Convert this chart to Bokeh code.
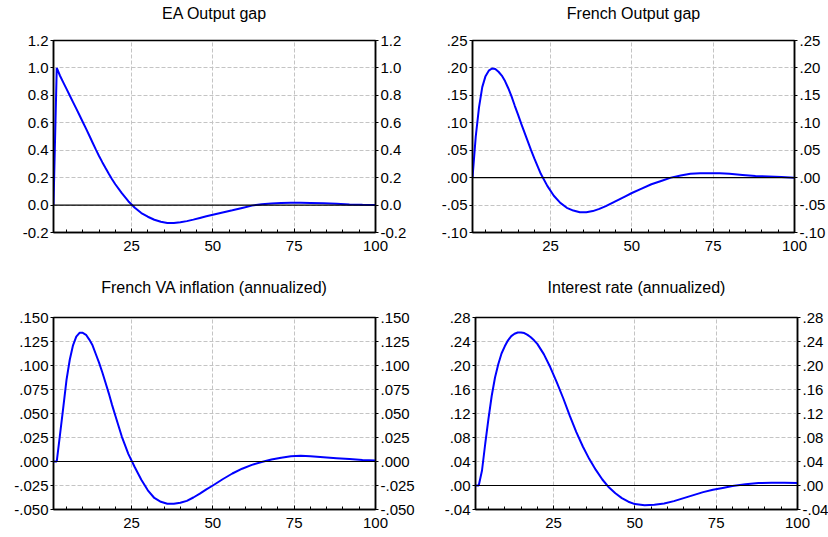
from bokeh.plotting import figure
from bokeh.layouts import column, row
from bokeh.models import LinearAxis, FixedTicker, Span, Range1d
from bokeh.embed import file_html
from bokeh.resources import INLINE

# ---------------- data ----------------
periods = [1, 2, 3, 4, 5, 6, 7, 8, 9, 10, 11, 12, 13, 14, 15, 16, 17, 18, 19, 20,
           22, 24, 26, 28, 30, 32, 34, 36, 38, 40, 42, 44, 46, 48, 50,
           53, 56, 59, 62, 65, 68, 71, 74, 77, 80, 84, 88, 92, 96, 100]

ea_output_gap = [0.0, 1.0, 0.943, 0.895, 0.847, 0.799, 0.751, 0.703, 0.655, 0.606,
                 0.557, 0.507, 0.456, 0.406, 0.358, 0.313, 0.27, 0.228, 0.188, 0.152,
                 0.087, 0.028, -0.02, -0.058, -0.085, -0.107, -0.122, -0.13, -0.13, -0.125,
                 -0.117, -0.106, -0.094, -0.082, -0.071,
                 -0.054, -0.038, -0.021, -0.004, 0.006, 0.012, 0.016, 0.017, 0.017, 0.016,
                 0.013, 0.009, 0.005, 0.002, 0.0]

fr_output_gap = [0.0, 0.075, 0.128, 0.165, 0.185, 0.195, 0.199, 0.198, 0.193, 0.186,
                 0.176, 0.163, 0.148, 0.131, 0.115, 0.098, 0.082, 0.066, 0.05, 0.035,
                 0.007, -0.015, -0.033, -0.046, -0.055, -0.06, -0.063, -0.063, -0.061, -0.057,
                 -0.052, -0.046, -0.04, -0.034, -0.028,
                 -0.02, -0.012, -0.006, 0.0, 0.004, 0.007, 0.008, 0.008, 0.008, 0.007,
                 0.005, 0.003, 0.002, 0.001, 0.0]

fr_va_inflation = [0.0, 0.0, 0.028, 0.056, 0.085, 0.106, 0.121, 0.13, 0.134, 0.134,
                   0.132, 0.127, 0.121, 0.112, 0.103, 0.093, 0.082, 0.071, 0.059, 0.048,
                   0.026, 0.008, -0.006, -0.019, -0.03, -0.038, -0.042, -0.044, -0.044, -0.043,
                   -0.041, -0.0375, -0.0335, -0.029, -0.025,
                   -0.0185, -0.0125, -0.0075, -0.0035, -0.0005, 0.002, 0.004, 0.0055, 0.006, 0.0055,
                   0.0045, 0.0035, 0.0025, 0.0015, 0.001]

interest_rate = [0.0, 0.0, 0.025, 0.07, 0.112, 0.15, 0.18, 0.202, 0.22, 0.232,
                 0.242, 0.249, 0.253, 0.255, 0.255, 0.254, 0.251, 0.247, 0.242, 0.236,
                 0.219, 0.197, 0.172, 0.145, 0.116, 0.089, 0.065, 0.044, 0.026, 0.01,
                 -0.003, -0.013, -0.021, -0.027, -0.031,
                 -0.033, -0.032, -0.03, -0.026, -0.021, -0.016, -0.011, -0.007, -0.004, -0.001,
                 0.002, 0.004, 0.0045, 0.0045, 0.004]

titles = ["EA Output gap", "French Output gap",
          "French VA inflation (annualized)", "Interest rate (annualized)"]

ea_ticks = [-0.2, 0.0, 0.2, 0.4, 0.6, 0.8, 1.0, 1.2]
ea_labels = ["-0.2", "0.0", "0.2", "0.4", "0.6", "0.8", "1.0", "1.2"]
fr_ticks = [-0.10, -0.05, 0.0, 0.05, 0.10, 0.15, 0.20, 0.25]
fr_labels = ["-.10", "-.05", ".00", ".05", ".10", ".15", ".20", ".25"]
inf_ticks = [-0.05, -0.025, 0.0, 0.025, 0.05, 0.075, 0.1, 0.125, 0.15]
inf_labels = ["-.050", "-.025", ".000", ".025", ".050", ".075", ".100", ".125", ".150"]
ir_ticks = [-0.04, 0.0, 0.04, 0.08, 0.12, 0.16, 0.20, 0.24, 0.28]
ir_labels = ["-.04", ".00", ".04", ".08", ".12", ".16", ".20", ".24", ".28"]

x_major = [25, 50, 75, 100]
x_minor = [5, 10, 15, 20, 30, 35, 40, 45, 55, 60, 65, 70, 80, 85, 90, 95]

FONT = "Liberation Sans"


def style_y_axis(ax, ticks, labels):
    ax.ticker = FixedTicker(ticks=ticks)
    ax.major_label_overrides = {t: l for t, l in zip(ticks, labels)}
    ax.major_tick_out = 3
    ax.major_tick_in = 0
    ax.minor_tick_line_color = None
    ax.major_label_standoff = 2
    ax.major_label_text_font = FONT
    ax.major_label_text_font_size = "15px"
    ax.major_label_text_color = "black"
    ax.axis_line_color = "black"
    ax.axis_line_width = 1.5
    ax.major_tick_line_color = "black"


def panel(title, yvals, ticks, labels, border_left, border_right, border_top, border_bottom, title_pad):
    p = figure(frame_width=322, frame_height=192,
               x_range=Range1d(1, 100), y_range=Range1d(ticks[0], ticks[-1]),
               output_backend="svg", toolbar_location=None,
               min_border_left=border_left, min_border_right=border_right,
               min_border_top=border_top, min_border_bottom=border_bottom,
               background_fill_color="white", border_fill_color="white")
    p.title.text = title
    p.title.align = "center"
    p.title.vertical_align = "top"
    p.title.text_font = FONT
    p.title.text_font_size = "16px"
    p.title.text_font_style = "normal"
    p.title.text_color = "black"
    p.title.standoff = 6
    p.title.padding = dict(left=0, right=0, top=0, bottom=title_pad)

    p.outline_line_color = "black"
    p.outline_line_width = 1.5

    xa = p.xaxis[0]
    xa.ticker = FixedTicker(ticks=x_major, minor_ticks=x_minor)
    xa.major_tick_in = 4
    xa.major_tick_out = 0
    xa.minor_tick_in = 3
    xa.minor_tick_out = 0
    xa.major_label_standoff = 8
    xa.major_label_text_font = FONT
    xa.major_label_text_font_size = "15px"
    xa.major_label_text_color = "black"
    xa.axis_line_color = "black"
    xa.axis_line_width = 1.5
    xa.major_tick_line_color = "black"
    xa.minor_tick_line_color = "black"

    style_y_axis(p.yaxis[0], ticks, labels)
    ra = LinearAxis()
    style_y_axis(ra, ticks, labels)
    p.add_layout(ra, "right")

    for g in (p.xgrid[0], p.ygrid[0]):
        g.grid_line_color = "#c4c4c4"
        g.grid_line_dash = "4 2"
        g.grid_line_width = 1
    p.xgrid[0].ticker = FixedTicker(ticks=[25, 50, 75])
    p.ygrid[0].ticker = FixedTicker(ticks=ticks)

    p.add_layout(Span(location=0, dimension="width", line_color="black", line_width=1.2))
    p.line(periods, yvals, line_color="#0000ff", line_width=2)
    return p


p1 = panel(titles[0], ea_output_gap, ea_ticks, ea_labels, 53, 39, 40, 42, 14)
p2 = panel(titles[1], fr_output_gap, fr_ticks, fr_labels, 58, 0, 40, 42, 14)
p3 = panel(titles[2], fr_va_inflation, inf_ticks, inf_labels, 53, 39, 43, 0, 17)
p4 = panel(titles[3], interest_rate, ir_ticks, ir_labels, 58, 0, 43, 0, 17)

layout = column(row(p1, p2), row(p3, p4))

with open("out.html", "w") as f:
    f.write(file_html(layout, INLINE))
